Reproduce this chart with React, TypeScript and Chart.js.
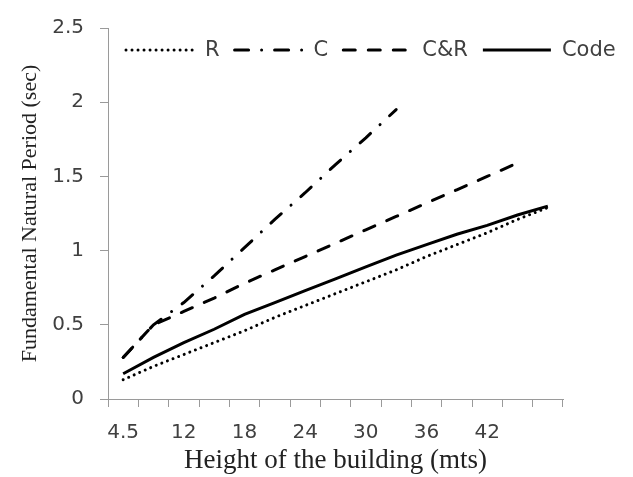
import React, { useEffect, useRef } from "react";
import { Chart, registerables } from "chart.js";

Chart.register(...registerables);

const categories = ["4.5", "9", "12", "15", "18", "21", "24", "27", "30", "33", "36", "39", "42", "45", "48"];
const shownLabels = ["4.5", "12", "18", "24", "30", "36", "42"];
const rValues = [0.13, 0.22, 0.30, 0.38, 0.46, 0.55, 0.63, 0.71, 0.79, 0.87, 0.96, 1.04, 1.12, 1.21, 1.29];
const cValues = [0.28, 0.50, 0.65, 0.83, 1.02, 1.21, 1.39, 1.58, 1.76, 1.95, null, null, null, null, null];
const crValues = [0.28, 0.50, 0.59, 0.68, 0.78, 0.87, 0.96, 1.05, 1.14, 1.23, 1.32, 1.41, 1.50, 1.59, null];
const codeValues = [0.17, 0.28, 0.38, 0.47, 0.57, 0.65, 0.73, 0.81, 0.89, 0.97, 1.04, 1.11, 1.17, 1.24, 1.30];
const seriesNames = ["R", "C", "C&R", "Code"];
const yTitle = "Fundamental Natural Period (sec)";
const xTitle = "Height of the building (mts)";

const legendPlugin = {
  id: "inlineLegend",
  afterDatasetsDraw(chart: any) {
    const ctx = chart.ctx;
    ctx.save();
    let x = 126;
    const y = 50;
    ctx.font = "21px 'DejaVu Sans'";
    ctx.textBaseline = "middle";
    ctx.textAlign = "left";
    chart.data.datasets.forEach((ds: any) => {
      ctx.beginPath();
      ctx.setLineDash(ds.borderDash || []);
      ctx.lineCap = ds.borderCapStyle || "butt";
      ctx.lineWidth = ds.borderWidth;
      ctx.strokeStyle = ds.borderColor;
      ctx.moveTo(x, y);
      ctx.lineTo(x + 68, y);
      ctx.stroke();
      ctx.setLineDash([]);
      ctx.fillStyle = "#404040";
      ctx.fillText(ds.label, x + 79, y + 1);
      x += 79 + ctx.measureText(ds.label).width + 15;
    });
    ctx.restore();
  },
};

export default function App() {
  const ref = useRef<HTMLCanvasElement>(null);
  useEffect(() => {
    if (!ref.current) return;
    const common = { pointRadius: 0, fill: false, tension: 0, borderColor: "#000", borderWidth: 3, borderCapStyle: "round" };
    const chart = new Chart(ref.current, {
      type: "line",
      data: {
        labels: categories,
        datasets: [
          { ...common, label: seriesNames[0], data: rValues, borderDash: [0.01, 6] },
          { ...common, label: seriesNames[1], data: cValues, borderDash: [14, 13, 0.01, 13] },
          { ...common, label: seriesNames[2], data: crValues, borderDash: [12, 13] },
          { ...common, label: seriesNames[3], data: codeValues, borderCapStyle: "butt", borderDash: [] },
        ] as any,
      },
      options: {
        animation: false,
        responsive: false,
        events: [],
        layout: { padding: { top: 16, right: 70, left: 0, bottom: 0 } },
        plugins: { legend: { display: false }, tooltip: { enabled: false } },
        scales: {
          x: {
            type: "category",
            offset: true,
            grid: { display: true, drawOnChartArea: false, drawTicks: true, tickLength: 8, color: "#9a9a9a", offset: true },
            border: { display: true, color: "#9a9a9a", width: 1 },
            ticks: {
              autoSkip: false,
              maxRotation: 0,
              padding: 14,
              color: "#404040",
              font: { family: "'DejaVu Sans'", size: 20 },
              callback: (_v: any, i: number) => (shownLabels.includes(categories[i]) ? categories[i] : ""),
            },
            title: { display: true, text: xTitle, color: "#222", font: { family: "'Liberation Serif'", size: 27 }, padding: { top: 0, bottom: 0 } },
            afterFit: (s: any) => { s.height = 78; },
          },
          y: {
            min: 0,
            max: 2.5,
            ticks: {
              stepSize: 0.5,
              padding: 16,
              color: "#404040",
              font: { family: "'DejaVu Sans'", size: 20 },
              callback: (v: any) => String(Number(v)),
            },
            grid: { display: true, drawOnChartArea: false, drawTicks: true, tickLength: 8, color: "#9a9a9a" },
            border: { display: true, color: "#9a9a9a", width: 1 },
            title: { display: true, text: yTitle, color: "#222", font: { family: "'Liberation Serif'", size: 22 }, padding: { top: 17, bottom: 0 } },
            afterFit: (s: any) => { s.width = 108; },
          },
        },
      },
      plugins: [legendPlugin],
    });
    return () => chart.destroy();
  }, []);
  return (
    <div style={{ position: "fixed", left: 0, top: 0, width: 633, height: 477, background: "#fff" }}>
      <canvas ref={ref} width={633} height={477} />
    </div>
  );
}
